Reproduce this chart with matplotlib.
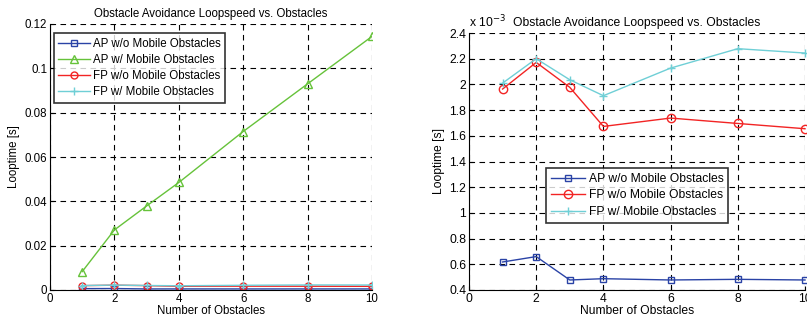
import numpy as np
import matplotlib.pyplot as plt

plt.rcParams['font.family'] = ['Liberation Sans', 'DejaVu Sans']
plt.rcParams['font.size'] = 8

# Number of obstacles
obstacles = [1, 2, 3, 4, 6, 8, 10]

# Loop times [s]
ap_wo = [0.618e-3, 0.660e-3, 0.478e-3, 0.488e-3, 0.478e-3, 0.483e-3, 0.478e-3]
ap_w = [0.0083, 0.0271, 0.0379, 0.0485, 0.0715, 0.0930, 0.1144]
fp_wo = [1.964e-3, 2.171e-3, 1.977e-3, 1.673e-3, 1.738e-3, 1.696e-3, 1.655e-3]
fp_w = [2.010e-3, 2.200e-3, 2.036e-3, 1.912e-3, 2.127e-3, 2.278e-3, 2.244e-3]

c_blue = '#2a43a6'
c_green = '#66c23a'
c_red = '#f22424'
c_cyan = '#6fcfd6'

title = 'Obstacle Avoidance Loopspeed vs. Obstacles'
ms = 5
lw = 1.0


def style_axes(ax, fs):
    ax.spines['top'].set_visible(False)
    ax.spines['right'].set_visible(False)
    ax.tick_params(direction='in', length=3, width=0.8, labelsize=fs, pad=2)
    ax.grid(True, color='black', linestyle=(0, (5, 4)), linewidth=0.8)
    ax.set_axisbelow(True)
    ax.set_xlim(0, 10)
    ax.set_xticks([0, 2, 4, 6, 8, 10])
    ax.set_xlabel('Number of Obstacles', labelpad=0, fontsize=fs)
    ax.set_ylabel('Looptime [s]', labelpad=3, fontsize=fs)
    ax.set_title(title, fontsize=fs, pad=5)


fig = plt.figure(figsize=(8.07, 3.27), dpi=100)

# left panel
fs1 = 8.3
ax1 = fig.add_axes([50 / 807, 1 - 290 / 327, 322 / 807, 266 / 327])
ax1.plot(obstacles, ap_wo, color=c_blue, marker='s', mfc='none', ms=ms, lw=lw,
         label='AP w/o Mobile Obstacles')
ax1.plot(obstacles, ap_w, color=c_green, marker='^', mfc='none', ms=ms + 1, lw=lw,
         label='AP w/ Mobile Obstacles')
ax1.plot(obstacles, fp_wo, color=c_red, marker='o', mfc='none', ms=ms, lw=lw,
         label='FP w/o Mobile Obstacles')
ax1.plot(obstacles, fp_w, color=c_cyan, marker='+', ms=ms + 1, lw=lw,
         label='FP w/ Mobile Obstacles')
ax1.set_ylim(0, 0.12)
ax1.set_yticks(np.arange(0, 0.121, 0.02))
ax1.set_yticklabels(['%g' % round(v, 2) for v in np.arange(0, 0.121, 0.02)])
style_axes(ax1, fs1)
leg1 = ax1.legend(loc='upper left', bbox_to_anchor=(0.012, 0.965), fontsize=fs1,
                  frameon=True, fancybox=False, edgecolor='black',
                  handlelength=2.7, borderpad=0.4, labelspacing=0.36,
                  handletextpad=0.3, borderaxespad=0)
leg1.get_frame().set_linewidth(1.2)

# right panel (values shown in units of 1e-3)
fs2 = 8.7
ax2 = fig.add_axes([469 / 807, 1 - 290 / 327, 336 / 807, 257 / 327])
ax2.plot(obstacles, np.array(ap_wo) * 1e3, color=c_blue, marker='s', mfc='none',
         ms=ms, lw=lw, label='AP w/o Mobile Obstacles', clip_on=False)
ax2.plot(obstacles, np.array(fp_wo) * 1e3, color=c_red, marker='o', mfc='none',
         ms=ms + 1, lw=lw, label='FP w/o Mobile Obstacles', clip_on=False)
ax2.plot(obstacles, np.array(fp_w) * 1e3, color=c_cyan, marker='+', ms=ms + 1,
         lw=lw, label='FP w/ Mobile Obstacles', clip_on=False)
ax2.set_ylim(0.4, 2.4)
yt = np.arange(0.4, 2.41, 0.2)
ax2.set_yticks(yt)
ax2.set_yticklabels(['%g' % round(v, 1) for v in yt])
style_axes(ax2, fs2)
ax2.text(0, 1.01, 'x 10$^{-3}$', transform=ax2.transAxes, fontsize=fs2,
         ha='left', va='bottom')
leg2 = ax2.legend(loc='upper left', bbox_to_anchor=(0.23, 0.475), fontsize=fs2,
                  frameon=True, fancybox=False, edgecolor='black',
                  handlelength=2.8, borderpad=0.4, labelspacing=0.38,
                  handletextpad=0.3, borderaxespad=0)
leg2.get_frame().set_linewidth(1.2)

plt.savefig('out.png', dpi=100)
